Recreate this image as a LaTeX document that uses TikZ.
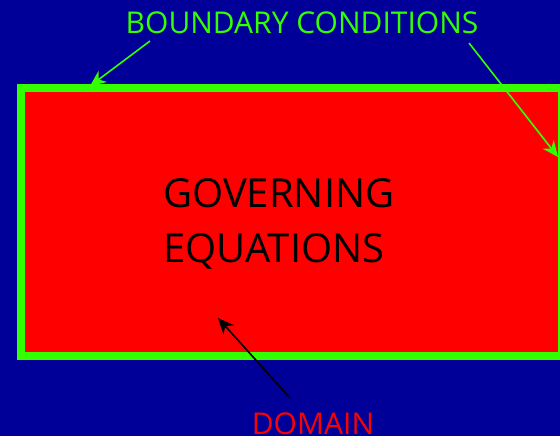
\documentclass[tikz,border=0pt]{standalone}
\usepackage{fontspec}
\setmainfont{Open Sans}
\usetikzlibrary{arrows.meta}
\definecolor{bgblue}{RGB}{0,0,153}
\definecolor{bcgreen}{RGB}{51,255,0}
\definecolor{domred}{RGB}{255,0,0}
\tikzset{
  lbl/.style={inner sep=0pt, font=\fontsize{30}{36}\selectfont},
  ptr/.style={line width=1.6pt, -{Stealth[length=16pt,width=14pt]}},
}
\begin{document}
\begin{tikzpicture}[x=1pt,y=-1pt]
\useasboundingbox (0,0) rectangle (560,436);
\clip (0,0) rectangle (560,436);
\fill[bgblue] (0,0) rectangle (560,436);
\node (dom) [draw=bcgreen, line width=8pt, fill=domred, inner sep=0pt,
  minimum width=541pt, minimum height=267.5pt] at (291.5,222.25) {};
\node (ge) [anchor=base west, inner sep=0pt, align=left,
  font=\fontsize{40}{55}\selectfont, text=black] at (163,262) {GOVERNING\\EQUATIONS};
\node (bc) [lbl, anchor=base, text=bcgreen] at (302,34) {BOUNDARY CONDITIONS};
\node (dm) [lbl, anchor=base, text=domred] at (313,434) {DOMAIN};
\coordinate (bcl) at (150,41);
\coordinate (bcr) at (469,43);
\coordinate (tl) at (90,86);
\coordinate (tr) at (558,157);
\coordinate (dms) at (290,398);
\coordinate (dmt) at (218,318);
\draw[ptr, bcgreen] (bcl) -- (tl);
\draw[ptr, bcgreen] (bcr) -- (tr);
\draw[ptr, black] (dms) -- (dmt);
\end{tikzpicture}
\end{document}
